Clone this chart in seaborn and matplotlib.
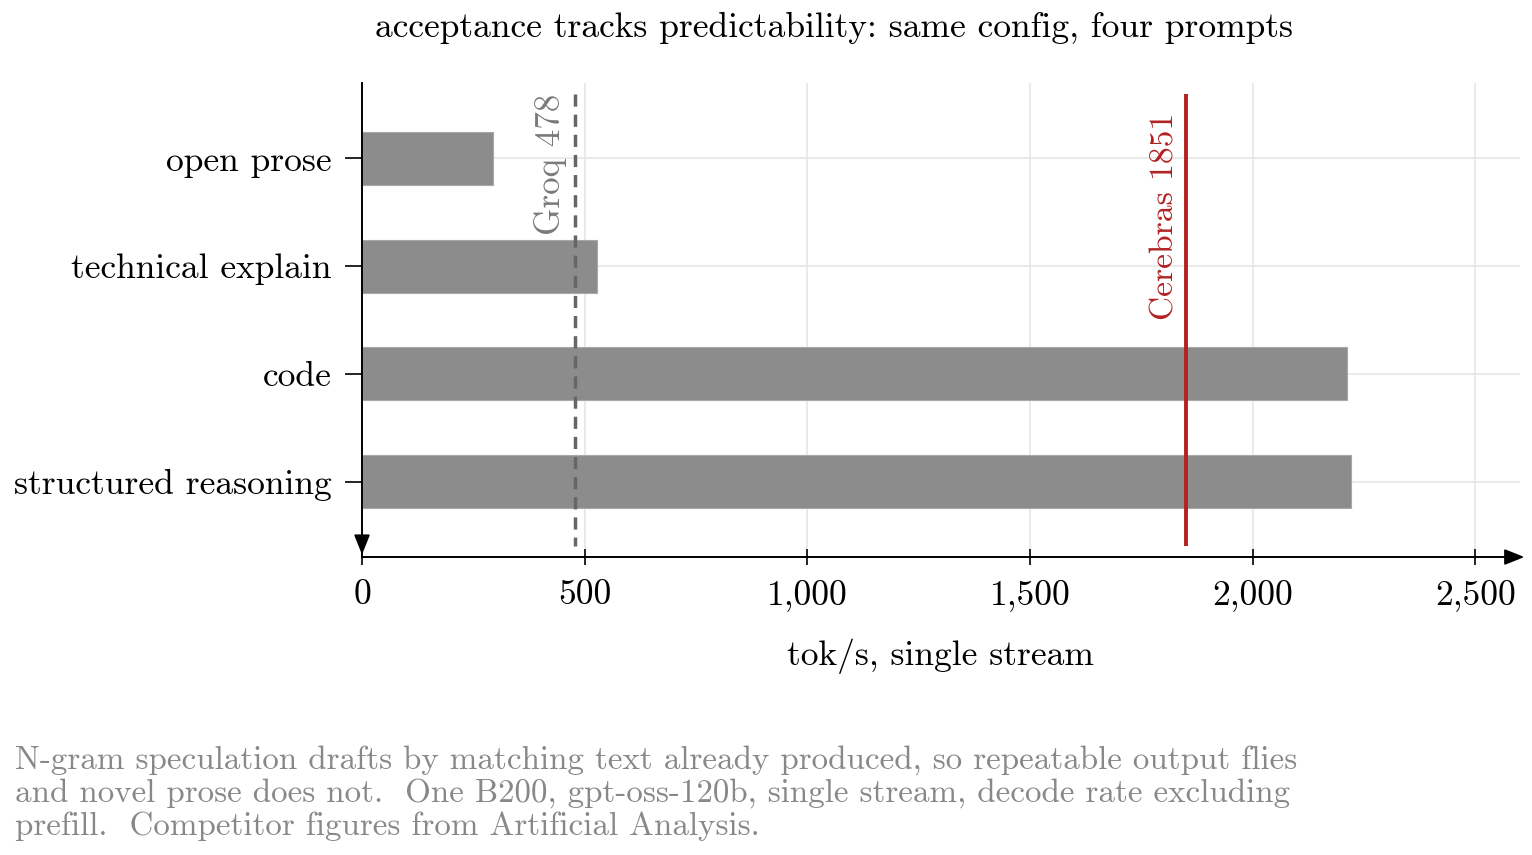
import matplotlib
matplotlib.use('Agg')
import matplotlib.pyplot as plt
import matplotlib.ticker as mticker
import pandas as pd
import seaborn as sns

# values
prompts = ['open prose', 'technical explain', 'code', 'structured reasoning']
tok_per_s = [294, 527, 2211, 2220]
groq_rate = 478
cerebras_rate = 1851
x_ticks = [0, 500, 1000, 1500, 2000, 2500]

df = pd.DataFrame({'prompt': prompts, 'tok_s': tok_per_s})

sns.set_theme(style='white')
plt.rcParams['font.family'] = ['cmr10', 'DejaVu Serif']
plt.rcParams['axes.formatter.use_mathtext'] = True
plt.rcParams['mathtext.fontset'] = 'cm'
plt.rcParams['text.color'] = 'black'
plt.rcParams['axes.labelcolor'] = 'black'

fs = 12.8

fig = plt.figure(figsize=(7.66, 4.275), dpi=200)
ax = fig.add_axes([0.2363, 0.3485, 0.7557, 0.5544])

sns.barplot(data=df, x='tok_s', y='prompt', orient='h', color='#8c8c8c',
            saturation=1, width=0.49, edgecolor='#a8a8a8', linewidth=0.4, ax=ax, zorder=2)

ax.set_xlim(0, 2600)
ax.set_ylim(3.7, -0.7)
ax.set_xticks(x_ticks)
ax.xaxis.set_major_formatter(mticker.StrMethodFormatter('{x:,.0f}'))
ax.grid(True, color='#e6e6e6', linewidth=0.6, zorder=0)
ax.set_axisbelow(True)

for s in ['top', 'right']:
    ax.spines[s].set_visible(False)
for s in ['left', 'bottom']:
    ax.spines[s].set_color('black')
    ax.spines[s].set_linewidth(0.7)

ax.tick_params(axis='x', direction='inout', length=6, width=0.6, colors='black', labelsize=fs, pad=5)
ax.tick_params(axis='y', direction='out', length=6, width=0.6, colors='black', labelsize=fs, pad=5)
ax.tick_params(axis='x', bottom=True)
ax.tick_params(axis='y', left=True)
ax.set_ylabel('')
ax.set_xlabel('tok/s, single stream', fontsize=fs, labelpad=10)

# arrow heads on axes
ax.annotate('', xy=(1.004, 0), xytext=(0.99, 0), xycoords='axes fraction',
            arrowprops=dict(arrowstyle='-|>,head_length=0.5,head_width=0.2', color='black', lw=0.7,
                            shrinkA=0, shrinkB=0))
ax.annotate('', xy=(0, 0.005), xytext=(0, 0.04), xycoords='axes fraction',
            arrowprops=dict(arrowstyle='-|>,head_length=0.5,head_width=0.2', color='black', lw=0.7,
                            shrinkA=0, shrinkB=0))

# reference lines
ax.vlines(groq_rate, -0.6, 3.6, colors='#666666', linestyles=(0, (3.5, 2.3)), linewidth=1.25, zorder=3)
ax.vlines(cerebras_rate, -0.6, 3.6, colors='#b22222', linewidth=1.4, zorder=3)
ax.annotate(f'Groq {groq_rate}', xy=(groq_rate, -0.6), xytext=(-3, 0), textcoords='offset points',
            rotation=90, ha='right', va='top', color='#7a7a7a', fontsize=12.6)
ax.annotate(f'Cerebras {cerebras_rate}', xy=(cerebras_rate, -0.42), xytext=(-2.5, 0), textcoords='offset points',
            rotation=90, ha='right', va='top', color='#b22222', fontsize=12.1)

fig.text(0.5445, 0.967, 'acceptance tracks predictability: same config, four prompts',
         ha='center', va='center', fontsize=fs)
fig.text(0.0098, 0.0725,
         'N-gram speculation drafts by matching text already produced, so repeatable output flies\n'
         'and novel prose does not.  One B200, gpt-oss-120b, single stream, decode rate excluding\n'
         'prefill.  Competitor figures from Artificial Analysis.',
         ha='left', va='center', fontsize=11.9, color='#888888', linespacing=1.12)

fig.savefig('out.png', dpi=200)
